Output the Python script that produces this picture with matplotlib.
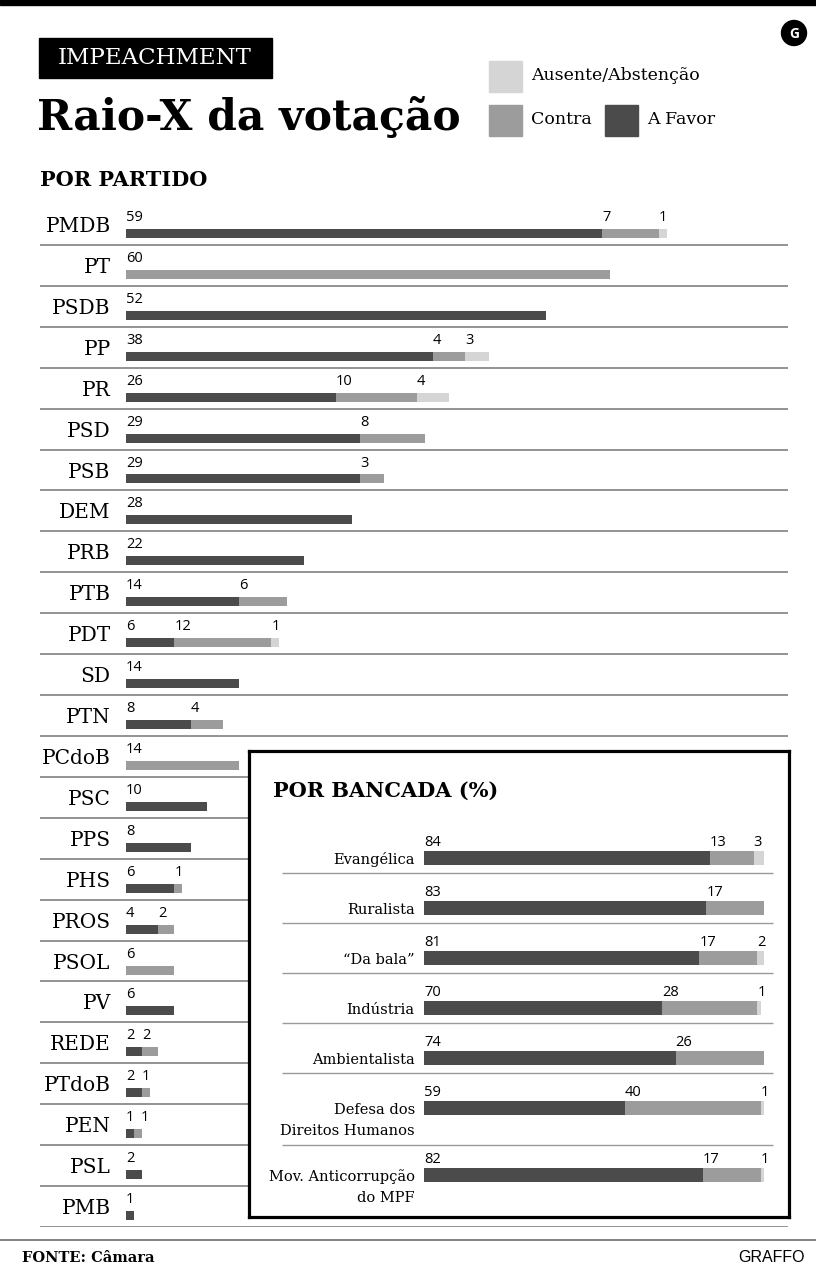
import matplotlib
matplotlib.use("Agg")
import matplotlib.pyplot as plt
from matplotlib.patches import Rectangle, Circle
import numpy as np

# ---- data ----
partidos = ["PMDB", "PT", "PSDB", "PP", "PR", "PSD", "PSB", "DEM", "PRB", "PTB",
            "PDT", "SD", "PTN", "PCdoB", "PSC", "PPS", "PHS", "PROS", "PSOL", "PV",
            "REDE", "PTdoB", "PEN", "PSL", "PMB"]
p_favor = [59, 0, 52, 38, 26, 29, 29, 28, 22, 14, 6, 14, 8, 0, 10, 8, 6, 4, 0, 6, 2, 2, 1, 2, 1]
p_contra = [7, 60, 0, 4, 10, 8, 3, 0, 0, 6, 12, 0, 4, 14, 0, 0, 1, 2, 6, 0, 2, 1, 1, 0, 0]
p_ausente = [1, 0, 0, 3, 4, 0, 0, 0, 0, 0, 1, 0, 0, 0, 0, 0, 0, 0, 0, 0, 0, 0, 0, 0, 0]

bancadas = ["Evangélica", "Ruralista", "\u201cDa bala\u201d", "Indústria", "Ambientalista",
            "Defesa dos\nDireitos Humanos", "Mov. Anticorrupção\ndo MPF"]
b_favor = [84, 83, 81, 70, 74, 59, 82]
b_contra = [13, 17, 17, 28, 26, 40, 17]
b_ausente = [3, 0, 2, 1, 0, 1, 1]

C_FAV = "#4b4b4b"
C_CON = "#9c9c9c"
C_AUS = "#d5d5d5"
SERIF = "DejaVu Serif"
SANS = "Open Sans"

W, H = 816, 1275
fig = plt.figure(figsize=(W / 100, H / 100), dpi=100)


def fx(x):
    return x / W


def fy(y):
    return 1 - y / H


# ---- header ----
fig.patches.append(Rectangle((0, fy(5)), 1, 5 / H, transform=fig.transFigure,
                             color="black", zorder=5))
fig.patches.append(Rectangle((fx(39), fy(78)), 233 / W, 40 / H, transform=fig.transFigure,
                             color="black", zorder=5))
fig.text(fx(155), fy(58), "IMPEACHMENT", color="white", family=SERIF, fontsize=16.5,
         ha="center", va="center", zorder=6)
fig.text(fx(37), fy(118), "Raio-X da votação", family=SERIF, fontweight="heavy",
         fontsize=30.5, ha="left", va="center")
fig.text(fx(40), fy(180), "POR PARTIDO", family=SERIF, fontweight="bold",
         fontsize=15, ha="left", va="center")

# logo
fig.patches.append(Circle((7.94, 12.42), 0.125, transform=fig.dpi_scale_trans,
                          color="black", zorder=5))
fig.text(fx(794), fy(34), "G", color="white", family=SANS, fontweight="bold",
         fontsize=10, ha="center", va="center", zorder=6)

# legend
for (x0, y0, c, lab) in [(489, 61, C_AUS, "Ausente/Abstenção"),
                         (489, 105, C_CON, "Contra"),
                         (605, 105, C_FAV, "A Favor")]:
    fig.patches.append(Rectangle((fx(x0), fy(y0 + 31)), 33 / W, 31 / H,
                                 transform=fig.transFigure, color=c))
    fig.text(fx(x0 + 42), fy(y0 + 15), lab, family=SERIF, fontsize=12.5,
             ha="left", va="center")

# ---- por partido ----
ax = fig.add_axes([fx(40), fy(1227), 748 / W, 1023 / H])
ppx = 8.07
ax.set_xlim((40 - 126) / ppx, (788 - 126) / ppx)
ax.set_ylim(len(partidos), 0)
ax.axis("off")

fav = np.array(p_favor)
con = np.array(p_contra)
aus = np.array(p_ausente)
rows = np.arange(len(partidos))
yb = rows + 0.72
ax.barh(yb, fav, height=0.22, color=C_FAV)
ax.barh(yb, con, left=fav, height=0.22, color=C_CON)
ax.barh(yb, aus, left=fav + con, height=0.22, color=C_AUS)
digit = 7.6 / ppx
for i in rows:
    ax.axhline(i + 1, color="#8a8a8a", lw=1.3)
    ax.text(-1.9, i + 0.55, partidos[i], family=SERIF, fontsize=14.5,
            ha="right", va="center")
    left = 0
    min_x = -100
    for v in (p_favor[i], p_contra[i], p_ausente[i]):
        if v:
            xt = max(left, min_x)
            ax.text(xt, i + 0.33, str(v), family=SANS, fontsize=10.5,
                    ha="left", va="center")
            min_x = xt + len(str(v)) * digit + 0.9
        left += v

# ---- por bancada (box) ----
bx = fig.add_axes([fx(249), fy(1217), 540 / W, 466 / H], zorder=3)
bpx = 3.4
bx.set_xlim((249 - 424) / bpx, (789 - 424) / bpx)
bx.set_ylim(466, 0)
bx.set_xticks([])
bx.set_yticks([])
bx.set_facecolor("white")
for s in bx.spines.values():
    s.set_linewidth(2.3)
    s.set_color("black")

bx.text((273 - 424) / bpx, 40, "POR BANCADA (%)", family=SERIF, fontweight="bold",
        fontsize=15, ha="left", va="center")

nlines = [b.count("\n") for b in bancadas]
centers = []
c = 107
for k in range(len(bancadas)):
    centers.append(c)
    c += 50 + 17 * nlines[k]
centers = np.array(centers)
bf = np.array(b_favor)
bc = np.array(b_contra)
ba = np.array(b_ausente)
bx.barh(centers, bf, height=14.5, color=C_FAV)
bx.barh(centers, bc, left=bf, height=14.5, color=C_CON)
bx.barh(centers, ba, left=bf + bc, height=14.5, color=C_AUS)
for k, name in enumerate(bancadas):
    for j, line in enumerate(name.split("\n")):
        bx.text(-2.7, centers[k] + 6 + 21 * j, line, family=SERIF, fontsize=10.5,
                ha="right", va="baseline")
    left = 0
    for v in (b_favor[k], b_contra[k], b_ausente[k]):
        if v:
            bx.text(left, centers[k] - 15.5, str(v), family=SANS, fontsize=10.5,
                    ha="left", va="center")
        left += v
    if k < len(bancadas) - 1:
        bx.hlines(centers[k] + 15 + 22 * nlines[k], (282 - 424) / bpx, (773 - 424) / bpx,
                  color="#9a9a9a", lw=1)

# ---- footer ----
fig.add_artist(plt.Line2D([0, 1], [fy(1240), fy(1240)], color="#777777", lw=1.3))
fig.text(fx(22), fy(1258), "FONTE: Câmara", family=SERIF, fontweight="bold",
         fontsize=10.5, ha="left", va="center")
fig.text(fx(805), fy(1258), "GRAFFO", family="Liberation Sans", fontsize=11.5,
         ha="right", va="center")

fig.savefig("out.png", dpi=100)
